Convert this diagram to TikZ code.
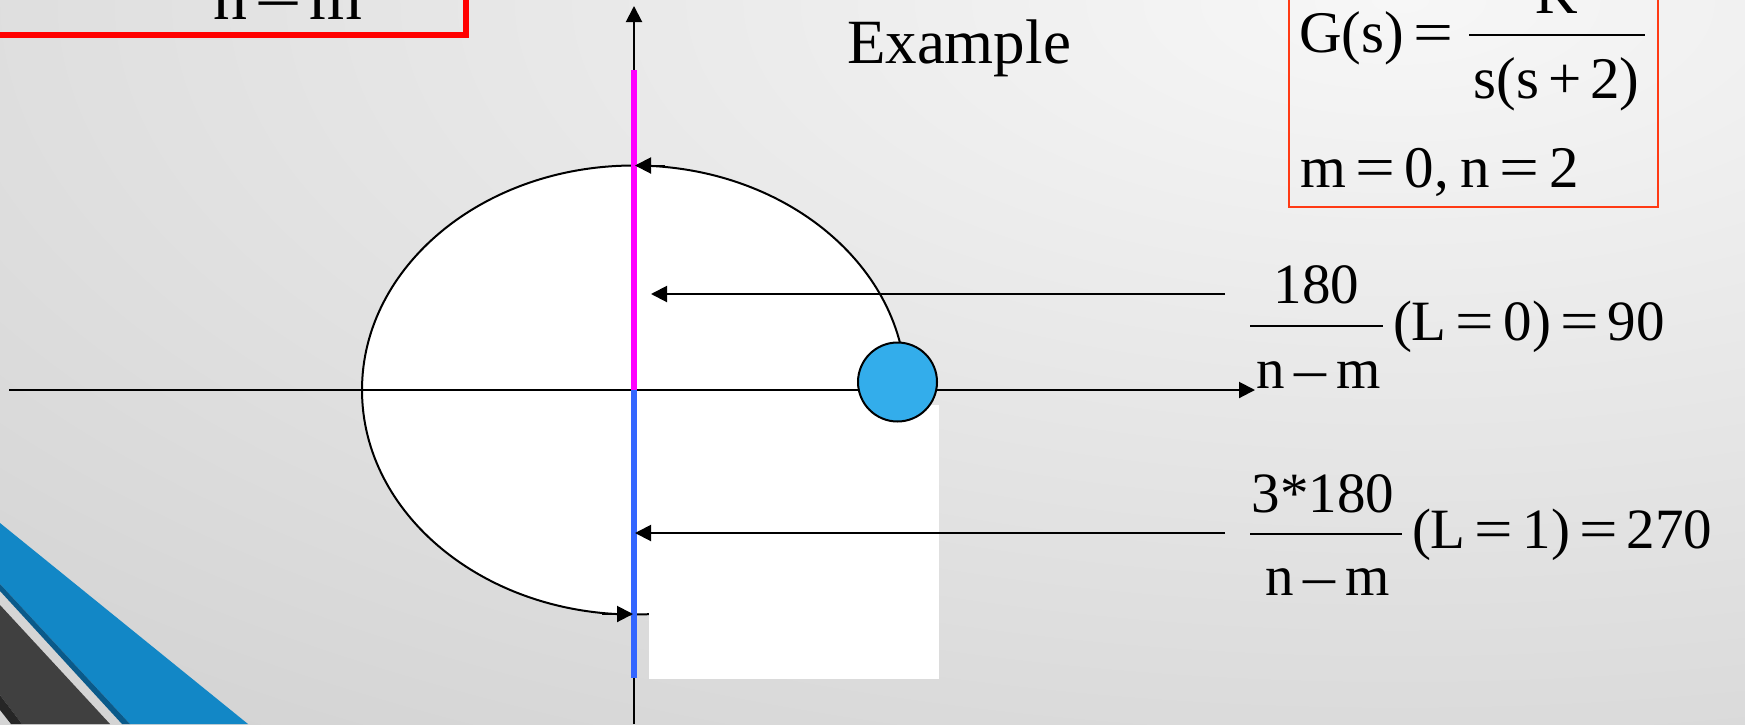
\documentclass[tikz,border=0pt]{standalone}
\usepackage{fontspec}
\setmainfont{Liberation Serif}
\usetikzlibrary{arrows.meta}
\definecolor{bgin}{HTML}{F7F7F7}
\definecolor{bgout}{HTML}{D4D4D4}
\definecolor{decoblue}{HTML}{1287C6}
\definecolor{decodark}{HTML}{0A5A8A}
\definecolor{decogrey}{HTML}{404040}
\definecolor{decoblack}{HTML}{262626}
\definecolor{boxred}{HTML}{FF0000}
\definecolor{boxorange}{HTML}{FF3A14}
\definecolor{locmag}{HTML}{FF00FF}
\definecolor{locblue}{HTML}{3366FF}
\definecolor{polecol}{HTML}{33ADEB}
\newcommand\qeq{\hspace{0.16em}\scalebox{1.2}[1]{=}\hspace{0.16em}}
\newcommand\qmin{\hspace{0.17em}\scalebox{1.12}[1]{–}\hspace{0.17em}}
\tikzset{
  axisline/.style={line width=2pt, draw=black},
  tipA/.style={-{Triangle[length=16pt,width=16pt]}},
  lbl/.style={inner sep=0pt, outer sep=0pt, text=black},
  bigfont/.style={font=\fontsize{68}{70}\selectfont},
  exfont/.style={font=\fontsize{63}{66}\selectfont},
  boxfont/.style={font=\fontsize{59}{62}\selectfont},
  labfont/.style={font=\fontsize{57}{60}\selectfont},
  fbar/.style={line width=2.4pt, draw=black},
  locus/.style={line width=6pt},
}
\begin{document}
\begin{tikzpicture}[x=1pt,y=-1pt]
\useasboundingbox (0,0) rectangle (1745,724);
\clip (0,0) rectangle (1745,724);
% background
\shade[inner color=bgin, outer color=bgout] (-600,-900) rectangle (3400,900);
% bottom-left decoration
\fill[decoblue] (0,523) -- (248,724) -- (130,724) -- (0,584) -- cycle;
\fill[decodark] (0,584) -- (130,724) -- (122,724) -- (0,591) -- cycle;
\fill[decogrey] (0,605) -- (110,724) -- (22,724) -- (0,695) -- cycle;
\fill[decoblack] (0,695) -- (22,724) -- (11,724) -- (0,710) -- cycle;
% red box top-left
\draw[boxred, line width=6pt] (-20,-40) rectangle (466,35);
\node[lbl, bigfont, anchor=base] (tlden) at (288,19) {n\qmin m};
% white region
\fill[white] (634,390) ellipse [x radius=272, y radius=224.5];
\draw[line width=2pt] (634,390) ellipse [x radius=272, y radius=224.5];
\fill[white] (649,405) rectangle (939,679);
% axes
\coordinate (hx0) at (9,390);
\coordinate (hx1) at (1255,390);
\coordinate (vy0) at (634,724);
\coordinate (vy1) at (634,6);
\draw[axisline, tipA] (hx0) -- (hx1);
\draw[axisline, tipA] (vy0) -- (vy1);
% loci on imaginary axis
\coordinate (mtop) at (634,70);
\coordinate (orig) at (634,390);
\coordinate (bbot) at (634,678);
\draw[locus, locmag] (mtop) -- (orig);
\draw[locus, locblue] (orig) -- (bbot);
% arrows on the ellipse
\coordinate (ts) at (665,165.5);
\coordinate (te) at (635,165.5);
\draw[axisline, tipA] (ts) -- (te);
\coordinate (bs) at (602,614);
\coordinate (be) at (633,614);
\draw[axisline, tipA] (bs) -- (be);
% label arrows
\coordinate (a1s) at (1225,294);
\coordinate (a1e) at (651,294);
\draw[axisline, tipA] (a1s) -- (a1e);
\coordinate (a2s) at (1225,533);
\coordinate (a2e) at (635,533);
\draw[axisline, tipA] (a2s) -- (a2e);
% pole
\node[circle, draw=black, line width=2pt, fill=polecol, minimum size=79pt, inner sep=0pt] (pole) at (897.5,382) {};
% Example
\node[lbl, exfont, anchor=base west] (example) at (847,63) {Example};
% formula box
\draw[boxorange, line width=2pt] (1289,-20) rectangle (1658,207);
\node[lbl, boxfont, anchor=base west] (gs) at (1299,52) {G(s)\qeq};
\node[lbl, boxfont, anchor=base] (knum) at (1557,13) {K};
\draw[fbar] (1469,35) -- (1645,35);
\node[lbl, boxfont, anchor=base] (gden) at (1556.5,98) {s(s\hspace{0.15em}+\hspace{0.15em}2)};
\node[lbl, boxfont, anchor=base west] (mn) at (1300,187) {m\qeq 0,\hspace{0.2em}n\qeq 2};
% right labels
\node[lbl, labfont, anchor=base] (n1) at (1316.5,303) {180};
\draw[fbar] (1250,326) -- (1383,326);
\node[lbl, labfont, anchor=base] (d1) at (1318.5,388) {n\qmin m};
\node[lbl, labfont, anchor=base west] (r1) at (1393,340) {(L\qeq 0)\qeq 90};
\node[lbl, labfont, anchor=base] (n2) at (1323,512) {3*180};
\draw[fbar] (1250,534) -- (1402,534);
\node[lbl, labfont, anchor=base] (d2) at (1327.5,595) {n\qmin m};
\node[lbl, labfont, anchor=base west] (r2) at (1412,548) {(L\qeq 1)\qeq 270};
\end{tikzpicture}
\end{document}
